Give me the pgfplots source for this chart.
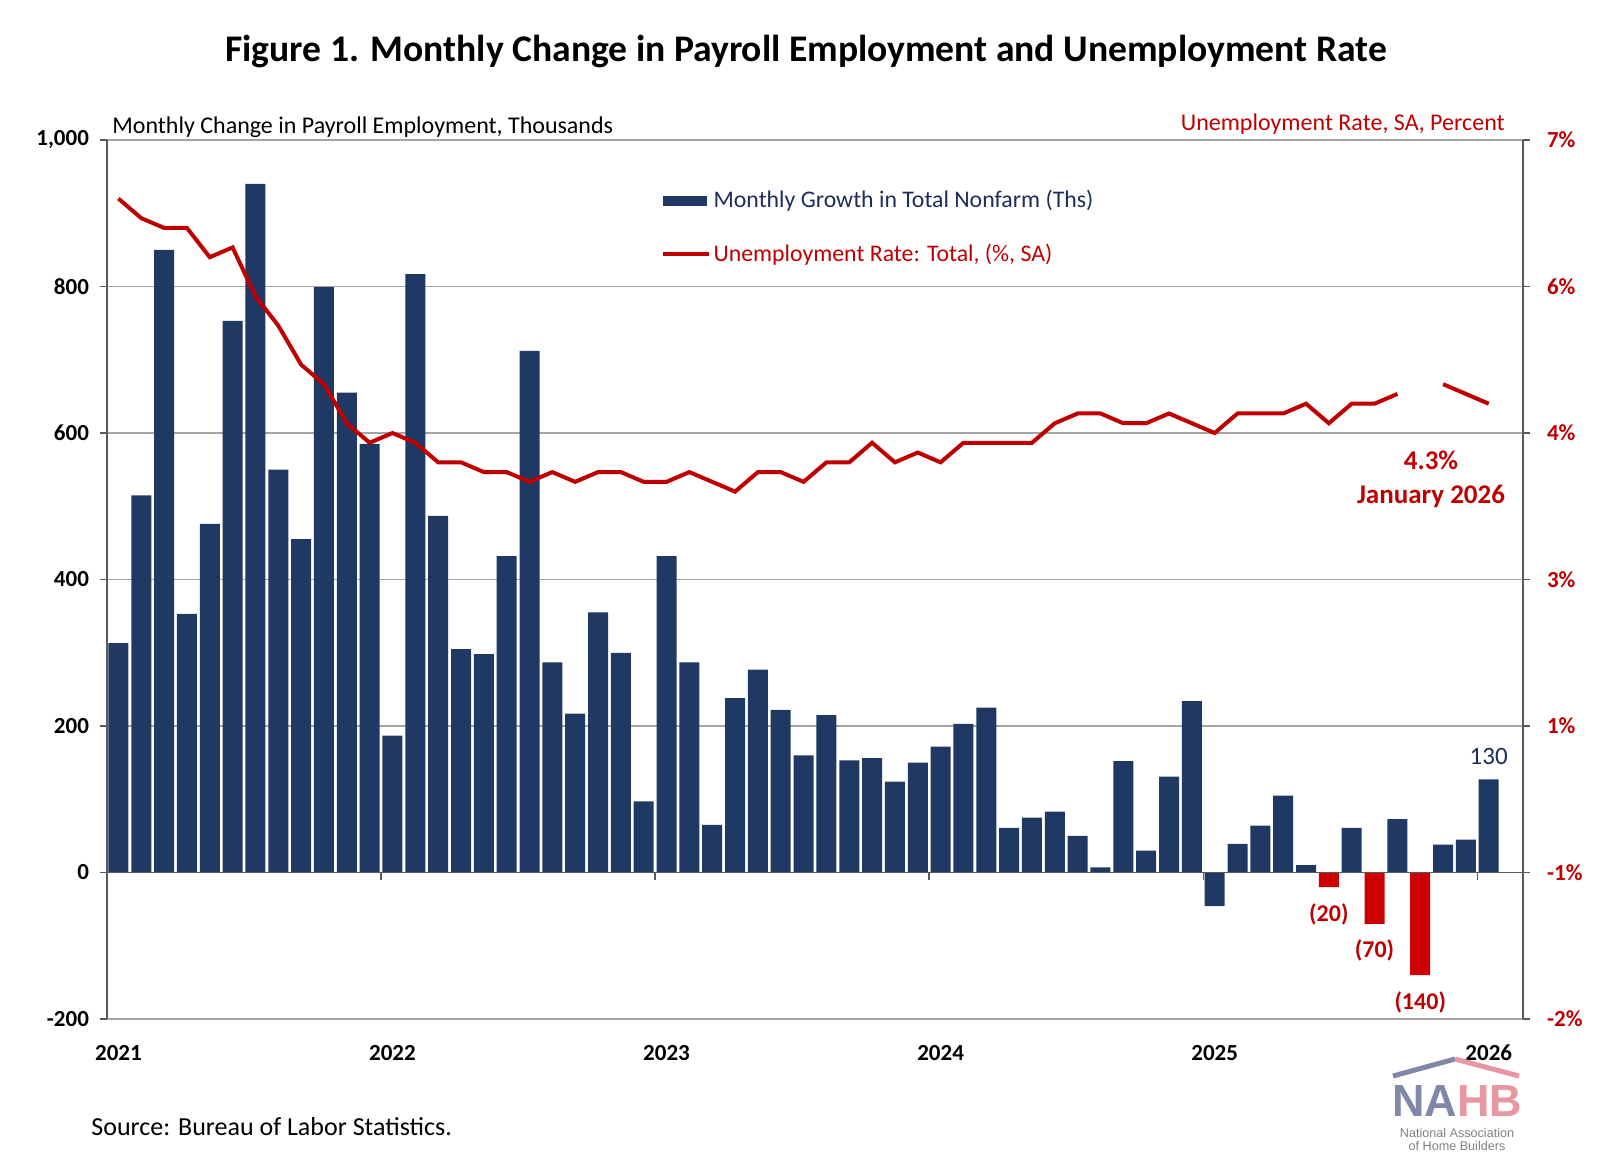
\documentclass[border=0pt]{standalone}
\usepackage{fontspec}
\setmainfont{Carlito}
\newfontfamily\logofont{Liberation Sans}
\usepackage{pgfplots}
\pgfplotsset{compat=1.18}
\usepackage{pgfplotstable}
\definecolor{navy}{RGB}{31,56,100}
\definecolor{navytext}{RGB}{28,45,92}
\definecolor{dred}{RGB}{192,0,0}
\definecolor{bred}{RGB}{204,0,0}
\definecolor{gridgray}{RGB}{165,165,165}
\definecolor{axgray}{RGB}{89,89,89}
\definecolor{logoblue}{RGB}{128,136,168}
\definecolor{logopink}{RGB}{232,150,160}

\pgfplotstableread{
idx val
0 313
1 515
2 850
3 353
4 476
5 753
6 940
7 550
8 455
9 799
10 655
11 585
12 187
13 817
14 487
15 305
16 298
17 432
18 712
19 287
20 217
21 355
22 300
23 97
24 432
25 287
26 65
27 238
28 277
29 222
30 160
31 215
32 153
33 156
34 124
35 150
36 172
37 203
38 225
39 61
40 75
41 83
42 50
43 7
44 152
45 30
46 131
47 234
48 -46
49 39
50 64
51 105
52 10
54 61
56 73
58 38
59 45
60 127
}\payroll

\pgfplotstableread{
idx val
53 -20
55 -70
57 -140
}\negred

\pgfplotstableread{
idx rate
0 6.4
1 6.2
2 6.1
3 6.1
4 5.8
5 5.9
6 5.4
7 5.1
8 4.7
9 4.5
10 4.1
11 3.9
12 4.0
13 3.9
14 3.7
15 3.7
16 3.6
17 3.6
18 3.5
19 3.6
20 3.5
21 3.6
22 3.6
23 3.5
24 3.5
25 3.6
26 3.5
27 3.4
28 3.6
29 3.6
30 3.5
31 3.7
32 3.7
33 3.9
34 3.7
35 3.8
36 3.7
37 3.9
38 3.9
39 3.9
40 3.9
41 4.1
42 4.2
43 4.2
44 4.1
45 4.1
46 4.2
47 4.1
48 4.0
49 4.2
50 4.2
51 4.2
52 4.3
53 4.1
54 4.3
55 4.3
56 4.4
57 nan
58 4.5
59 4.4
60 4.3
}\urate

\begin{document}
\begin{tikzpicture}
\useasboundingbox (0,0) rectangle (800pt,-581pt);
\begin{axis}[
  at={(53.5pt,-509.5pt)}, anchor=south west,
  scale only axis, width=708pt, height=439.5pt,
  xmin=-0.5, xmax=61.5, ymin=-200, ymax=1000,
  axis y line*=left, axis x line*=bottom,
  ytick={-200,0,200,400,600,800,1000},
  yticklabels={-200,0,200,400,600,800,{1,000}},
  xtick={0,12,24,36,48,60},
  xticklabels={2021,2022,2023,2024,2025,2026},
  ymajorgrids, grid style={gridgray, line width=0.6pt},
  x axis line style={gridgray, line width=0.7pt, -},
  y axis line style={axgray, line width=0.7pt, -},
  ytick style={axgray, line width=0.7pt},
  xtick style={draw=none},
  tick align=outside, major tick length=3.5pt,
  yticklabel style={font=\fontsize{11.5}{13}\selectfont\bfseries, text=black, xshift=-2pt},
  xticklabel style={font=\fontsize{11.5}{13}\selectfont\bfseries, text=black, yshift=-6pt},
  clip=false,
]
\addplot[ybar, bar width=10pt, bar shift=0pt, fill=navy, draw=none] table[x=idx,y=val]{\payroll};
\addplot[ybar, bar width=10pt, bar shift=0pt, fill=bred, draw=none] table[x=idx,y=val]{\negred};
\draw[axgray, line width=0.9pt] (axis cs:-0.5,0) -- (axis cs:61.5,0);
\pgfplotsinvokeforeach{11.5,23.5,35.5,47.5,59.5}{
  \draw[axgray, line width=0.7pt] (axis cs:#1,0) -- ([yshift=-3.5pt]axis cs:#1,0);
}
\node[text=navytext, font=\fontsize{12.5}{14}\selectfont, yshift=11.5pt] at (axis cs:60,127) {130};
\node[text=dred, font=\fontsize{12}{14}\selectfont\bfseries, yshift=-13.5pt] at (axis cs:53,-20) {(20)};
\node[text=dred, font=\fontsize{12}{14}\selectfont\bfseries, yshift=-13.5pt] at (axis cs:55,-70) {(70)};
\node[text=dred, font=\fontsize{12}{14}\selectfont\bfseries, yshift=-13.5pt] at (axis cs:57,-140) {(140)};
\end{axis}

\begin{axis}[
  at={(53.5pt,-509.5pt)}, anchor=south west,
  scale only axis, width=708pt, height=439.5pt,
  xmin=-0.5, xmax=61.5, ymin=-2, ymax=7,
  axis y line*=right, axis x line=none,
  ytick={-2,-0.5,1,2.5,4,5.5,7},
  yticklabels={-2\%,-1\%,1\%,3\%,4\%,6\%,7\%},
  y axis line style={axgray, line width=0.7pt, -},
  ytick style={axgray, line width=0.7pt},
  tick align=outside, major tick length=3.5pt,
  yticklabel style={font=\fontsize{11.5}{13}\selectfont\bfseries, text=dred, xshift=5pt},
  clip=false,
  legend style={at={(0.387,0.951)}, anchor=north west, draw=none, fill=none,
    font=\fontsize{11.9}{13}\selectfont, row sep=13.5pt, nodes={inner sep=1.5pt}},
  legend cell align=left,
]
\addlegendimage{legend image code/.code={\fill[navy] (0pt,-2.3pt) rectangle (21.5pt,2.3pt);}}
\addlegendentry{\textcolor{navytext}{Monthly Growth in Total Nonfarm (Ths)}}
\addplot[dred, line width=2pt, unbounded coords=jump,
  legend image code/.code={\draw[dred,line width=1.6pt] (0pt,0pt) -- (23pt,0pt);}]
  table[x=idx,y=rate]{\urate};
\addlegendentry{\textcolor{dred}{Unemployment Rate: Total, (\%, SA)}}
\end{axis}

\node[font=\fontsize{18.8}{22}\selectfont\bfseries] at (403pt,-25.5pt) {Figure 1. Monthly Change in Payroll Employment and Unemployment Rate};
\node[anchor=west, font=\fontsize{12}{14}\selectfont, inner sep=0pt] at (56pt,-63.5pt) {Monthly Change in Payroll Employment, Thousands};
\node[anchor=east, text=dred, font=\fontsize{12}{14}\selectfont, inner sep=0pt] at (752.5pt,-62pt) {Unemployment Rate, SA, Percent};
\node[text=dred, font=\fontsize{13.5}{15}\selectfont\bfseries] at (715.5pt,-230pt) {4.3\%};
\node[text=dred, font=\fontsize{13.5}{15}\selectfont\bfseries] at (715.5pt,-248pt) {January 2026};
\node[anchor=west, font=\fontsize{13}{15}\selectfont, inner sep=0pt] at (45.5pt,-563.5pt) {Source: Bureau of Labor Statistics.};
% logo
\draw[logoblue, line width=2.5pt] (696.5pt,-538pt) -- (727.5pt,-529.5pt);
\draw[logopink, line width=2.5pt] (727.5pt,-529.5pt) -- (759.5pt,-538pt);
\node[font=\logofont\bfseries\fontsize{22.5}{24}\selectfont, inner sep=0pt] at (728.5pt,-550.5pt) {\textcolor{logoblue}{NA}\textcolor{logopink}{HB}};
\node[font=\logofont\fontsize{6.3}{7}\selectfont, text=gray, inner sep=0pt] at (728.5pt,-566.5pt) {National Association};
\node[font=\logofont\fontsize{6.3}{7}\selectfont, text=gray, inner sep=0pt] at (728.5pt,-573pt) {of Home Builders};
\end{tikzpicture}
\end{document}
